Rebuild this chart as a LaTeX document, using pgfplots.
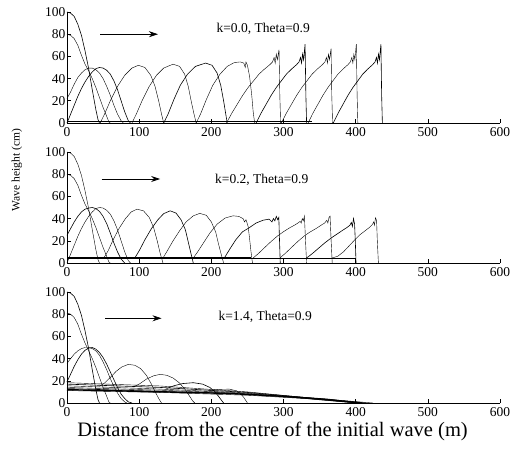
\documentclass[border=0pt]{standalone}
\usepackage{pgfplots}
\pgfplotsset{compat=1.18}
\usepackage{fontspec}
\setmainfont{Liberation Serif}
\usetikzlibrary{arrows.meta}

\pgfplotsset{
  panel/.style={
    scale only axis, width=433pt, height=111pt,
    anchor=south west,
    xmin=0, xmax=600, ymin=0, ymax=100,
    axis x line=bottom, axis y line=left,
    axis line style={-, line width=0.9pt},
    xtick={0,100,...,600}, ytick={0,20,...,100},
    tick align=inside, major tick length=4pt,
    tick style={black, line width=0.6pt},
    ticklabel style={font=\fontsize{13.5}{14}\selectfont},
    /pgf/number format/assume math mode=true,
    xticklabel style={inner sep=4pt},
    yticklabel style={inner sep=1.5pt},
    clip=false,
    cycle list={{black, line width=0.6pt, mark=none}},
  },
}
\tikzset{
  wavearrow/.style={-{Stealth[length=9pt,width=6pt]}, line width=0.7pt},
  lab/.style={anchor=west, font=\fontsize{13.5}{14}\selectfont, inner sep=0pt},
}

\begin{document}
\begin{tikzpicture}
\useasboundingbox (0,0) rectangle (517pt,448pt);

% ---------------- k = 0.0 ----------------
\begin{axis}[panel, at={(67pt,325pt)}]
\addplot+[line width=0.8pt] coordinates {(0,1)(340,1)};
\addplot coordinates {(0,100)(5,99)(10,96)(15,89)(20,79)(25,65)(30,49)(35,30)(40,12)(43,3)(45,0)};
\addplot coordinates {(0,80)(5,79)(10,76)(15,70)(20,61)(25,53)(30,47)(35,40)(40,32)(45,23)(50,14)(55,6)(58,1)(60,0)};
\addplot coordinates {(0,22)(5,28)(10,35)(15,41)(20,45)(25,48)(30,49.5)(35,49.5)(40,48)(45,45)(50,40)(55,33)(60,25)(65,16)(70,8)(75,2)(78,0)};
\addplot coordinates {(0,0)(5,8)(10,16)(15,24)(20,31)(25,37)(30,42)(35,46)(40,49)(45,50)(50,49.5)(55,47.5)(60,44)(65,38)(70,30)(75,20)(80,10)(85,2)(88,0)};
\addplot coordinates {(46,0)(52,8)(60,20)(70,33)(80,43)(90,49.5)(99,52)(108,50)(116,43)(122,33)(127,20)(131,8)(134,0)};
\addplot coordinates {(90,0)(96,8)(104,20)(114,33)(124,43)(134,49.5)(147,53)(156,51)(163,44)(168,33)(172,20)(176,8)(179,0)};
\addplot coordinates {(134,0)(140,8)(148,21)(157,34)(167,44)(178,51)(192,54)(201,52)(208,45)(213,34)(217,20)(220,8)(222,0)};
\addplot coordinates {(179,0)(185,8)(193,21)(202,34)(212,44)(222,51)(232,54.5)(240,55)(245,54)(247,50)(248,55)(250,52)(253,42)(256,25)(258,10)(260,0)};
\addplot coordinates {(221,0)(228.5,9)(236,17)(243.5,25)(251,32)(258.5,38)(266,44)(273.5,48.5)(281,52.5)(284.8,55)(287,59)(288.5,54)(290,62)(291.5,57)(293.8,66)(294.9,25)(296,0)};
\addplot coordinates {(262,0)(269,9)(276,17)(283,25)(290,32)(297,38)(304,44)(311,48.5)(318,52.5)(321.5,55)(323.6,59)(325,54)(326.4,62)(327.8,57)(329.9,71)(331,25)(332,0)};
\addplot coordinates {(297,0)(304.1,9)(311.2,17)(318.3,25)(325.4,32)(332.5,38)(339.6,44)(346.7,48.5)(353.8,52.5)(357.4,55)(359.5,59)(360.9,54)(362.3,62)(363.7,57)(365.9,67)(366.9,25)(368,0)};
\addplot coordinates {(334,0)(340.9,9)(347.8,17)(354.7,25)(361.6,32)(368.5,38)(375.4,44)(382.3,48.5)(389.2,52.5)(392.7,55)(394.7,59)(396.1,54)(397.5,62)(398.9,57)(400.9,71)(402,25)(403,0)};
\addplot coordinates {(369,0)(375.8,9)(382.6,17)(389.4,25)(396.2,32)(403,38)(409.8,44)(416.6,48.5)(423.4,52.5)(426.8,55)(428.8,59)(430.2,54)(431.6,62)(433,57)(435,71)(436,25)(437,0)};
\draw[wavearrow] (axis cs:46,80) -- (axis cs:126,80);
\node[lab] at (axis cs:207,85) {k=0.0, Theta=0.9};
\end{axis}

% ---------------- k = 0.2 ----------------
\begin{axis}[panel, at={(67pt,185pt)}]
\addplot+[line width=1.6pt] coordinates {(0,4.5)(255,4.5)};
\addplot coordinates {(255,4.5)(400,4.5)};
\addplot coordinates {(0,100)(5,99)(10,96)(15,89)(20,79)(25,65)(30,49)(35,30)(40,12)(43,3)(45,0)};
\addplot coordinates {(0,80)(5,79)(10,76)(15,70)(20,61)(25,53)(30,47)(35,40)(40,32)(45,23)(50,14)(55,6)(58,1)(60,0)};
\addplot coordinates {(0,25)(5,31)(10,37)(15,42)(20,46)(25,48.5)(30,49.5)(35,50)(40,49)(45,46.5)(50,42)(55,35.5)(60,27)(65,18)(70,10)(75,3.5)(80,0)};
\addplot coordinates {(0,0)(5,8)(10,16)(15,24)(20,31)(25,37)(30,42)(35,46)(40,49)(45,50)(50,49.5)(55,47.5)(60,44)(65,38)(70,30)(75,20)(80,10)(85,2)(88,0)};
\addplot coordinates {(51,4.5)(57,11)(64,21)(72,31)(81,40)(89,46)(97,48.5)(106,47)(114,41)(120,32)(125,20)(129,9)(133,0)};
\addplot coordinates {(94,4.5)(100,11)(108,21)(117,31)(126,39)(134,44.5)(143,47)(151,45)(158,39)(164,30)(168,19)(172,8)(175,0)};
\addplot coordinates {(133,4.5)(139,11)(147,20)(156,29)(165,37)(175,42.5)(184,44.7)(193,43)(200,37)(206,28)(210,17)(214,7)(217,0)};
\addplot coordinates {(175,4.5)(181,10)(189,18)(198,27)(208,35)(219,40.5)(230,42.5)(238,42)(244,40)(246,37)(248,39)(251,33)(253,22)(255,10)(257,0)};
\addplot coordinates {(218,4.5)(226,13)(234,21)(243,28)(253,32)(262,36)(272,38.6)(280,39.5)(284,37)(286,40)(288,38)(290,42)(292,39)(293.5,41)(294.5,20)(295.5,0)};
\addplot coordinates {(258,4.5)(266,9)(274,14)(283,19.5)(292,24.5)(300,28.2)(308,31.5)(315,34)(320,36)(323,37.5)(324.5,36)(326,40)(327.5,38)(329,42.3)(330.5,20)(332,0)};
\addplot coordinates {(295,4.5)(303,9)(311,14)(320,19.5)(329,24.5)(337,28)(345,31)(352,34)(357,36)(360,38.5)(361.5,36)(363,41)(364.5,42.3)(366,20)(367.5,0)};
\addplot coordinates {(332,4.5)(340,8.5)(348,13)(357,18)(366,22.5)(374,26)(382,29.5)(388,32)(392,34)(394,36.5)(395.5,33)(397,40)(398.5,35)(399.5,20)(400.5,0)};
\addplot coordinates {(367,4.5)(375,6)(383,10)(391,15.5)(399,21)(406,25.5)(413,29)(419,32)(423,34.5)(425,37)(426,34)(427.5,40.8)(429,38)(430,20)(431.5,0)};
\draw[wavearrow] (axis cs:48,75.7) -- (axis cs:129,75.7);
\node[lab] at (axis cs:205,75) {k=0.2, Theta=0.9};
\end{axis}

% ---------------- k = 1.4 ----------------
\begin{axis}[panel, at={(67pt,45pt)}]
\addplot coordinates {(0,18.3)(130,15.3)(250,10)(330,5)(424,0)};
\addplot coordinates {(0,17)(130,14)(250,9.5)(330,5)(415,0)};
\addplot coordinates {(0,15.5)(130,12.5)(250,9)(330,4.5)(410,0)};
\addplot coordinates {(0,14)(130,11.5)(250,8.5)(330,4.5)(408,0)};
\addplot coordinates {(0,13)(130,10.5)(250,8)(330,4.2)(405,0)};
\addplot+[line width=1.4pt] coordinates {(0,12)(221,8.7)(300,6)(360,3.3)(406,0)};
\addplot coordinates {(0,11.2)(130,9.5)(250,7)(330,4)(400,0)};
\addplot coordinates {(0,100)(5,99)(10,96)(15,89)(20,79)(25,65)(30,49)(35,30)(40,12)(43,3)(45,0)};
\addplot coordinates {(0,81)(5,80)(10,77)(15,71)(20,62)(25,54)(30,47)(35,40)(40,32)(45,23)(50,14)(55,6)(58,1)(60,0)};
\addplot coordinates {(0,35.7)(5,40)(10,44)(15,47)(20,49)(25,50)(30,50)(35,49)(40,47)(45,43)(50,37)(55,30)(60,22)(65,15)(70,9)(75,4)(80,1)(83,0)};
\addplot coordinates {(0,19)(5,26)(10,33)(15,39)(20,44)(25,47.5)(30,49.5)(35,50)(40,48.5)(45,45.5)(50,41)(55,35)(60,28)(65,21)(70,14)(75,8)(80,4)(85,1)(90,0)};
\addplot coordinates {(45,15)(52,18)(60,23)(68,28.5)(76,32.5)(85,34.8)(94,34)(102,31)(110,25)(117,17)(123,9)(128,3)(131,0)};
\addplot coordinates {(92,14.5)(100,17)(110,21.5)(120,24.5)(129,25.8)(138,25)(147,22.5)(156,18)(164,12)(170,6)(174,2)(177,0)};
\addplot coordinates {(138,13)(148,15.5)(160,17.5)(175,18.3)(188,17)(198,14)(205,10)(210,6)(214,2.5)(217,0)};
\addplot coordinates {(190,10)(200,11.5)(212,12.3)(225,12.5)(235,11)(241,8)(245,5)(248,2)(250,0)};
\draw[wavearrow] (axis cs:52.7,76.3) -- (axis cs:131,76.3);
\node[lab] at (axis cs:209.7,77.2) {k=1.4, Theta=0.9};
\end{axis}

\node[rotate=90, font=\fontsize{11.5}{12}\selectfont] at (17pt,278pt) {Wave height (cm)};
\node[font=\fontsize{20.5}{22}\selectfont] at (272.5pt,17pt) {Distance from the centre of the initial wave (m)};
\end{tikzpicture}
\end{document}
